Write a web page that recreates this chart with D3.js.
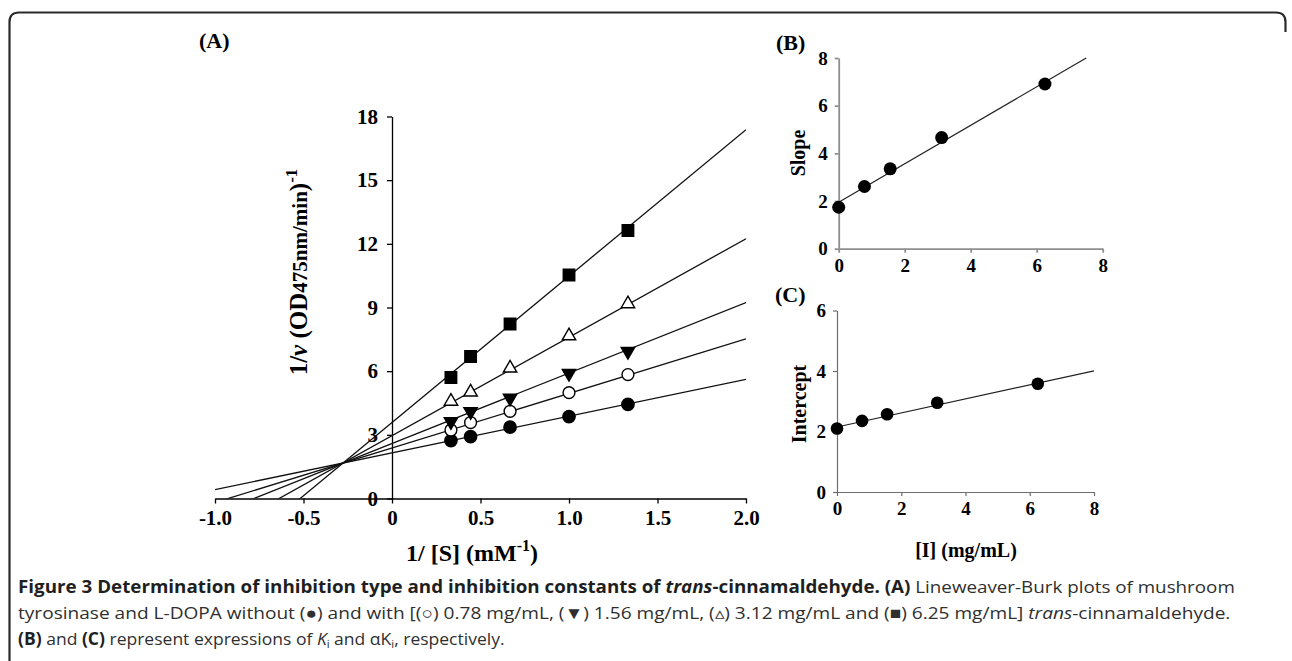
<!DOCTYPE html>
<html>
<head>
<meta charset="utf-8">
<script src="https://cdn.jsdelivr.net/npm/d3@7"></script>
<style>
    body { margin: 0; background: #fff; }
    svg { display: block; }
    .serif { font-family: "Liberation Serif", "Times New Roman", serif; font-weight: bold; fill: #000; }
    .caption { font-family: "Open Sans", "Noto Sans", sans-serif; font-size: 17px; fill: #2f2f2f; }
</style>
</head>
<body>
<svg id="fig" width="1292" height="661"></svg>
<script>
// Lineweaver-Burk data, panel A
const invS = [0.333, 0.444, 0.667, 1.0, 1.333];
const rate0 = [2.73, 2.92, 3.36, 3.86, 4.43];
const rate078 = [3.23, 3.58, 4.11, 4.99, 5.84];
const rate156 = [3.62, 4.10, 4.73, 5.90, 6.93];
const rate312 = [4.58, 5.01, 6.14, 7.66, 9.17];
const rate625 = [5.70, 6.69, 8.22, 10.53, 12.63];
const seriesMarkers = ['circleFilled', 'circleOpen', 'triDown', 'triUp', 'square'];
// fitted lines (intercept at 1/[S]=0, slope)
const lineIntercept = [2.15, 2.38, 2.59, 2.96, 3.58];
const lineSlope = [1.73, 2.57, 3.32, 4.64, 6.90];

// secondary plots, panels B and C
const inhibitor = [0, 0.78, 1.56, 3.12, 6.25];
const slopeB = [1.74, 2.61, 3.35, 4.66, 6.91];
const interceptC = [2.10, 2.35, 2.57, 2.95, 3.58];
const fitB = [1.95, 0.807];   // intercept, slope
const fitC = [2.15, 0.232];
const fitBRange = [0, 7.5];
const fitCRange = [0, 8];

// tick labels
const xTicksA = [-1, -0.5, 0, 0.5, 1, 1.5, 2];
const xTickLabelsA = ['-1.0', '-0.5', '0', '0.5', '1.0', '1.5', '2.0'];
const yTicksA = [0, 3, 6, 9, 12, 15, 18];
const ticksB = [0, 2, 4, 6, 8];
const xTicksC = [0, 2, 4, 6, 8];
const yTicksC = [0, 2, 4, 6];

const svg = d3.select('#fig');
svg.append('rect').attr('width', 1292).attr('height', 661).attr('fill', '#fff');

// figure frame (top and left edges, rounded corners)
svg.append('path')
    .attr('d', 'M9.5,661 L9.5,22 Q9.5,12.5 19,12.5 L1276,12.5 Q1285.5,12.5 1285.5,22 L1285.5,32')
    .attr('fill', 'none')
    .attr('stroke', '#2a2a2a')
    .attr('stroke-width', 2.2);

// ---------- Panel A ----------
const xA = d3.scaleLinear().domain([-1, 2]).range([215, 746]);
const yA = d3.scaleLinear().domain([0, 18]).range([498.5, 116.5]);

const gA = svg.append('g');

const xAxisA = d3.axisBottom(xA)
    .tickValues(xTicksA)
    .tickFormat((d, i) => xTickLabelsA[i])
    .tickSize(5).tickSizeOuter(0).tickPadding(7);
const yAxisA = d3.axisLeft(yA)
    .tickValues(yTicksA)
    .tickFormat(d3.format('d'))
    .tickSize(5).tickSizeOuter(0).tickPadding(9);

gA.append('g').attr('transform', `translate(0,${yA(0)})`).call(xAxisA);
gA.append('g').attr('transform', `translate(${xA(0)},0)`).call(yAxisA);
gA.selectAll('.domain, .tick line').attr('stroke', '#000').attr('stroke-width', 1.3);
gA.selectAll('.tick text').attr('class', 'serif').attr('font-size', 21);

svg.append('clipPath').attr('id', 'clipA')
    .append('rect')
    .attr('x', xA(-1)).attr('y', yA(18))
    .attr('width', xA(2) - xA(-1)).attr('height', yA(0) - yA(18));

const fitLines = gA.append('g').attr('clip-path', 'url(#clipA)');
lineIntercept.forEach((b, i) => {
    fitLines.append('line')
        .attr('x1', xA(-1)).attr('y1', yA(b - lineSlope[i]))
        .attr('x2', xA(2)).attr('y2', yA(b + 2 * lineSlope[i]))
        .attr('stroke', '#111')
        .attr('stroke-width', 1.3);
});

const symbolFor = {
    circleFilled: { type: d3.symbolCircle, size: 120, fill: '#000', rot: 0 },
    circleOpen: { type: d3.symbolCircle, size: 110, fill: '#fff', rot: 0 },
    triDown: { type: d3.symbolTriangle, size: 78, fill: '#000', rot: 180 },
    triUp: { type: d3.symbolTriangle, size: 78, fill: '#fff', rot: 0 },
    square: { type: d3.symbolSquare, size: 132, fill: '#000', rot: 0 }
};

const allRates = [rate0, rate078, rate156, rate312, rate625];
allRates.forEach((series, i) => {
    const m = symbolFor[seriesMarkers[i]];
    gA.append('g').selectAll('path')
        .data(series)
        .join('path')
        .attr('d', d3.symbol().type(m.type).size(m.size))
        .attr('transform', (d, j) => `translate(${xA(invS[j])},${yA(d)}) rotate(${m.rot})`)
        .attr('fill', m.fill)
        .attr('stroke', '#000')
        .attr('stroke-width', 1.4);
});

// panel A labels
svg.append('text').attr('class', 'serif').attr('font-size', 22)
    .attr('x', 199).attr('y', 48).text('(A)');

const yTitleA = svg.append('text').attr('class', 'serif').attr('font-size', 25)
    .attr('text-anchor', 'middle')
    .attr('transform', 'translate(307,272) rotate(-90)');
yTitleA.append('tspan').text('1/');
yTitleA.append('tspan').attr('font-style', 'italic').text('v');
yTitleA.append('tspan').text(' (OD');
yTitleA.append('tspan').attr('font-size', 21).text('475nm/min');
yTitleA.append('tspan').text(')');
yTitleA.append('tspan').attr('font-size', 17).attr('dy', -10).text('-1');

const xTitleA = svg.append('text').attr('class', 'serif').attr('font-size', 24)
    .attr('text-anchor', 'middle')
    .attr('x', 472).attr('y', 561);
xTitleA.append('tspan').text('1/ [S] (mM');
xTitleA.append('tspan').attr('font-size', 16).attr('dy', -10).text('-1');
xTitleA.append('tspan').attr('dy', 10).text(')');

// ---------- Panel B ----------
const xB = d3.scaleLinear().domain([0, 8]).range([838.7, 1102.7]);
const yB = d3.scaleLinear().domain([0, 8]).range([248.7, 58]);
const gB = svg.append('g');

gB.append('g').attr('transform', `translate(0,${yB(0)})`)
    .call(d3.axisBottom(xB).tickValues(ticksB).tickFormat(d3.format('d'))
        .tickSize(4).tickSizeOuter(0).tickPadding(6));
gB.append('g').attr('transform', `translate(${xB(0)},0)`)
    .call(d3.axisLeft(yB).tickValues(ticksB).tickFormat(d3.format('d'))
        .tickSize(4).tickSizeOuter(0).tickPadding(7));
gB.selectAll('.domain, .tick line').attr('stroke', '#8f8f8f').attr('stroke-width', 1.8);
gB.selectAll('.tick text').attr('class', 'serif').attr('font-size', 19);

gB.append('line')
    .attr('x1', xB(fitBRange[0])).attr('y1', yB(fitB[0] + fitB[1] * fitBRange[0]))
    .attr('x2', xB(fitBRange[1])).attr('y2', yB(fitB[0] + fitB[1] * fitBRange[1]))
    .attr('stroke', '#222').attr('stroke-width', 1.2);

gB.append('g').selectAll('circle')
    .data(slopeB)
    .join('circle')
    .attr('cx', (d, i) => xB(inhibitor[i]))
    .attr('cy', d => yB(d))
    .attr('r', 6.5)
    .attr('fill', '#000');

svg.append('text').attr('class', 'serif').attr('font-size', 22)
    .attr('x', 776).attr('y', 50).text('(B)');
svg.append('text').attr('class', 'serif').attr('font-size', 20)
    .attr('text-anchor', 'middle')
    .attr('transform', 'translate(805,153) rotate(-90)')
    .text('Slope');

// ---------- Panel C ----------
const xC = d3.scaleLinear().domain([0, 8]).range([837, 1094]);
const yC = d3.scaleLinear().domain([0, 6]).range([492, 310.5]);
const gC = svg.append('g');

gC.append('g').attr('transform', `translate(0,${yC(0)})`)
    .call(d3.axisBottom(xC).tickValues(xTicksC).tickFormat(d3.format('d'))
        .tickSize(4).tickSizeOuter(0).tickPadding(6));
gC.append('g').attr('transform', `translate(${xC(0)},0)`)
    .call(d3.axisLeft(yC).tickValues(yTicksC).tickFormat(d3.format('d'))
        .tickSize(4).tickSizeOuter(0).tickPadding(7));
gC.selectAll('.domain, .tick line').attr('stroke', '#6e6e6e').attr('stroke-width', 1.2);
gC.selectAll('.tick text').attr('class', 'serif').attr('font-size', 19);

gC.append('line')
    .attr('x1', xC(fitCRange[0])).attr('y1', yC(fitC[0] + fitC[1] * fitCRange[0]))
    .attr('x2', xC(fitCRange[1])).attr('y2', yC(fitC[0] + fitC[1] * fitCRange[1]))
    .attr('stroke', '#222').attr('stroke-width', 1.2);

gC.append('g').selectAll('circle')
    .data(interceptC)
    .join('circle')
    .attr('cx', (d, i) => xC(inhibitor[i]))
    .attr('cy', d => yC(d))
    .attr('r', 6.3)
    .attr('fill', '#000');

svg.append('text').attr('class', 'serif').attr('font-size', 22)
    .attr('x', 775).attr('y', 302).text('(C)');
svg.append('text').attr('class', 'serif').attr('font-size', 20)
    .attr('text-anchor', 'middle')
    .attr('transform', 'translate(806,404) rotate(-90)')
    .text('Intercept');
svg.append('text').attr('class', 'serif').attr('font-size', 20)
    .attr('text-anchor', 'middle')
    .attr('x', 966).attr('y', 557)
    .text('[I] (mg/mL)');

// ---------- Caption ----------
const captionLines = [
    { y: 593, width: 1218, parts: [
        { t: 'Figure 3 Determination of inhibition type and inhibition constants of ', b: true },
        { t: 'trans', b: true, i: true },
        { t: '-cinnamaldehyde. (A)', b: true },
        { t: ' Lineweaver-Burk plots of mushroom' }
    ] },
    { y: 619, width: 1214, parts: [
        { t: 'tyrosinase and L-DOPA without (\u25CF) and with [(\u25CB) 0.78 mg/mL, (\u25BC) 1.56 mg/mL, (\u25B5) 3.12 mg/mL and (\u25A0) 6.25 mg/mL] ' },
        { t: 'trans', i: true },
        { t: '-cinnamaldehyde.' }
    ] },
    { y: 645, width: 487, parts: [
        { t: '(B)', b: true },
        { t: ' and ' },
        { t: '(C)', b: true },
        { t: ' represent expressions of ' },
        { t: 'K', i: true },
        { t: 'i', sub: true },
        { t: ' and \u03B1K' },
        { t: 'i', sub: true },
        { t: ', respectively.' }
    ] }
];

captionLines.forEach(line => {
    const g = svg.append('g');
    const txt = g.append('text').attr('class', 'caption').attr('x', 0).attr('y', 0);
    let shifted = false;
    line.parts.forEach(p => {
        const ts = txt.append('tspan').text(p.t);
        if (p.b) ts.attr('font-weight', 'bold').attr('fill', '#1f1f1f');
        if (p.i) ts.attr('font-style', 'italic');
        if (p.sub) { ts.attr('font-size', 11).attr('dy', shifted ? 0 : 3); shifted = true; }
        else if (shifted) { ts.attr('dy', -3); shifted = false; }
    });
    const w = txt.node().getComputedTextLength();
    const sx = line.width / w;
    g.attr('transform', `translate(18,${line.y}) scale(${sx},1)`);
});
</script>
</body>
</html>
